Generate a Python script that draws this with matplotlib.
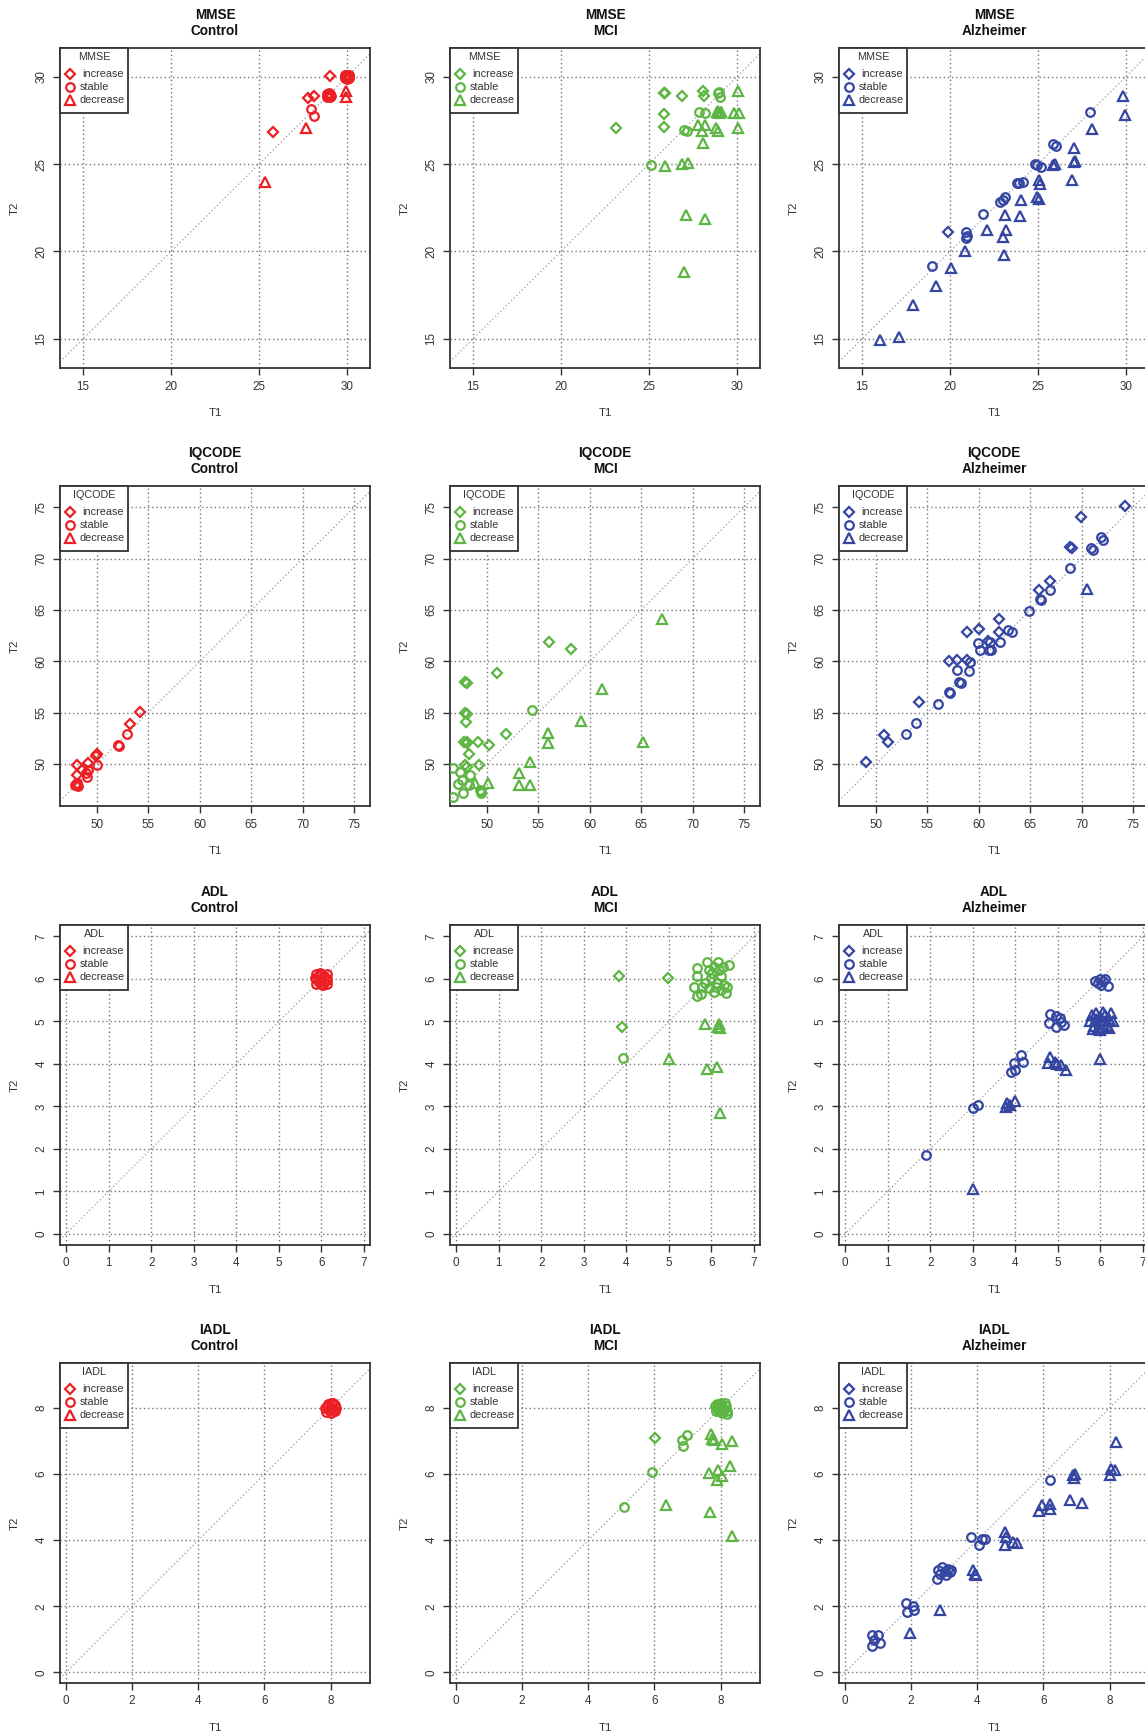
import matplotlib
matplotlib.use("Agg")
import matplotlib.pyplot as plt
from matplotlib.patches import Rectangle

plt.rcParams['font.family'] = ['Liberation Sans', 'DejaVu Sans']

# colours per diagnostic group
RED = '#ec1f24'
GREEN = '#5db543'
BLUE = '#3446a2'

groups = ['Control', 'MCI', 'Alzheimer']
scales = ['MMSE', 'IQCODE', 'ADL', 'IADL']
categories = ['increase', 'stable', 'decrease']

# axis limits and ticks per scale
mmse_lim = ((13.69, 31.31), (13.33, 31.64))
iqcode_lim = ((46.4, 76.56), (45.9, 77.08))
adl_lim = ((-0.14, 7.14), (-0.26, 7.27))
iadl_lim = ((-0.18, 9.19), (-0.32, 9.36))
mmse_ticks = [15, 20, 25, 30]
iqcode_ticks = [50, 55, 60, 65, 70, 75]
adl_ticks = [0, 1, 2, 3, 4, 5, 6, 7]
iadl_ticks = [0, 2, 4, 6, 8]

# ---- MMSE (T1, T2) ----
mmse_control_inc = [(29.05, 30.05), (27.8, 28.8), (28.15, 28.9), (25.82, 26.82)]
mmse_control_sta = [(29.9, 29.9), (30.0, 30.0), (30.1, 30.1), (29.95, 30.08), (30.08, 29.92),
                    (29.9, 30.1), (30.1, 29.9), (30.0, 29.88), (30.0, 30.12), (29.88, 30.0),
                    (30.12, 30.0), (30.05, 30.05), (29.95, 29.95),
                    (28.85, 28.85), (28.95, 28.95), (29.05, 29.0), (28.9, 29.02), (29.05, 28.82),
                    (28.88, 28.98), (29.0, 28.88), (28.98, 29.05), (29.08, 28.92),
                    (27.95, 28.13), (28.14, 27.77)]
mmse_control_dec = [(29.95, 29.2), (29.95, 28.86), (27.66, 27.07), (25.35, 24.0)]

mmse_mci_inc = [(23.11, 27.05), (25.85, 29.05), (25.9, 29.05), (26.86, 28.9), (25.85, 27.85),
                (25.85, 27.14), (28.06, 29.2), (28.1, 28.9)]
mmse_mci_sta = [(28.94, 29.05), (29.05, 28.86), (29.0, 29.1), (27.85, 27.96), (28.17, 27.9),
                (27.0, 26.92), (27.16, 26.9), (25.13, 24.92)]
mmse_mci_dec = [(28.85, 27.95), (28.92, 28.02), (29.0, 27.9), (29.08, 28.0), (29.12, 27.95),
                (29.85, 27.9), (30.13, 27.9), (30.08, 29.2), (30.08, 27.05), (27.8, 27.24),
                (28.2, 27.24), (28.0, 26.9), (28.8, 27.05), (28.9, 26.9), (28.06, 26.19),
                (25.9, 24.86), (26.9, 25.0), (27.2, 25.05), (27.1, 22.1), (28.2, 21.84),
                (27.0, 18.83)]

mmse_alz_inc = [(19.9, 21.1)]
mmse_alz_sta = [(27.98, 27.96), (25.88, 26.15), (26.03, 26.04), (24.83, 25.0), (24.96, 24.92),
                (25.15, 24.82), (23.78, 23.9), (23.93, 23.94), (24.16, 24.0), (22.82, 22.82),
                (23.0, 22.95), (23.1, 23.1), (21.87, 22.14), (20.93, 21.14), (20.97, 20.86),
                (20.9, 20.77), (19.0, 19.15)]
mmse_alz_dec = [(29.85, 28.9), (29.96, 27.81), (28.07, 26.99), (27.02, 25.9), (25.88, 24.92),
                (25.97, 25.0), (27.02, 25.1), (27.1, 25.18), (26.93, 24.1), (25.08, 24.1),
                (25.11, 23.85), (24.96, 23.11), (25.08, 23.0), (24.03, 22.96), (23.97, 22.05),
                (23.1, 22.1), (23.2, 21.2), (23.0, 20.82), (23.06, 19.8), (22.1, 21.24),
                (20.88, 20.0), (20.05, 19.05), (19.2, 18.0), (17.92, 16.96), (16.0, 14.96),
                (17.1, 15.11)]

# ---- IQCODE ----
iqcode_control_inc = [(54.2, 55.1), (53.17, 53.9), (50.0, 51.0), (49.9, 50.8), (49.1, 50.1),
                      (48.06, 49.9), (48.5, 49.4), (48.06, 48.9)]
iqcode_control_sta = [(52.9, 52.92), (52.0, 51.85), (52.17, 51.79), (50.0, 49.9), (49.1, 49.4),
                      (48.9, 49.1), (49.0, 48.77), (48.0, 47.9), (48.1, 48.0), (47.95, 48.05),
                      (48.12, 47.85), (48.05, 48.1), (47.9, 47.95)]
iqcode_control_dec = []

iqcode_mci_inc = [(56.0, 61.88), (58.15, 61.17), (50.97, 58.86), (47.9, 58.0), (48.05, 57.86),
                  (47.9, 54.98), (48.1, 54.82), (48.0, 54.06), (51.88, 52.89), (47.73, 52.15),
                  (48.1, 52.15), (48.1, 52.0), (49.1, 52.1), (50.16, 51.85), (48.2, 50.94),
                  (49.19, 49.9), (47.9, 49.9), (48.1, 49.74)]
iqcode_mci_sta = [(54.38, 55.26), (46.7, 49.58), (47.4, 49.25), (48.38, 48.93), (47.56, 48.44),
                  (47.14, 48.0), (48.2, 47.95), (47.63, 47.2), (46.69, 46.75), (49.35, 47.47),
                  (49.45, 47.2), (49.4, 47.35)]
iqcode_mci_dec = [(66.98, 64.12), (61.14, 57.27), (59.16, 54.19), (55.9, 52.99), (55.94, 52.0),
                  (65.16, 52.15), (48.86, 48.1), (50.06, 48.12), (53.12, 49.1), (53.12, 47.9),
                  (54.16, 47.98), (54.22, 50.16)]

iqcode_alz_inc = [(74.25, 75.13), (69.94, 74.03), (68.9, 71.1), (69.06, 71.0), (66.95, 67.86),
                  (65.9, 66.95), (62.0, 64.09), (58.9, 62.89), (60.03, 63.12), (62.0, 62.89),
                  (60.94, 62.0), (57.14, 60.03), (57.86, 60.16), (58.9, 60.16), (54.16, 56.07),
                  (50.81, 52.8), (51.14, 52.1), (49.03, 50.16)]
iqcode_alz_sta = [(70.94, 71.0), (71.1, 70.84), (71.88, 72.08), (72.05, 71.82), (68.83, 69.06),
                  (66.88, 66.95), (65.97, 66.04), (66.07, 65.97), (64.9, 64.9), (62.8, 63.05),
                  (63.2, 62.89), (62.08, 61.92), (59.97, 61.82), (60.13, 61.1), (61.1, 61.85),
                  (61.04, 61.1), (61.17, 61.1), (59.1, 59.94), (57.92, 59.16), (59.06, 59.06),
                  (58.12, 58.0), (58.28, 57.9), (57.14, 57.05), (57.2, 56.95), (56.07, 55.84),
                  (53.9, 53.95), (52.89, 52.9)]
iqcode_alz_dec = [(70.52, 67.0)]

# ---- ADL ----
adl_control_inc = []
adl_control_sta = [(5.88, 5.88), (6.0, 5.88), (6.12, 5.88), (5.88, 6.0), (6.0, 6.0), (6.12, 6.0),
                   (5.88, 6.12), (6.0, 6.12), (6.12, 6.12), (5.94, 5.94), (6.06, 5.94), (5.94, 6.06),
                   (6.06, 6.06), (5.86, 6.03), (6.14, 5.97), (6.03, 5.85), (5.97, 6.15)]
adl_control_dec = []

adl_mci_inc = [(3.84, 6.06), (4.98, 6.02), (3.89, 4.86)]
adl_mci_sta = [(3.92, 4.13), (5.65, 6.25), (5.65, 6.07), (5.65, 5.6), (5.59, 5.82), (5.78, 5.82),
               (5.89, 6.41), (5.94, 6.22), (5.98, 6.02), (6.06, 6.29), (6.15, 6.39), (6.18, 6.22),
               (6.22, 6.07), (6.1, 5.82), (6.3, 5.86), (6.41, 6.32), (6.37, 5.82), (6.33, 5.67),
               (5.94, 5.78), (5.76, 5.65), (6.06, 5.7), (6.14, 5.9), (6.02, 6.14), (6.22, 5.74),
               (5.86, 5.9), (6.26, 6.29)]
adl_mci_dec = [(5.0, 4.12), (5.86, 4.94), (6.15, 4.88), (6.18, 4.94), (6.2, 4.84), (5.89, 3.89),
               (6.14, 3.94), (6.2, 2.84)]

adl_alz_inc = []
adl_alz_sta = [(5.87, 5.96), (5.94, 5.91), (6.02, 5.86), (6.1, 6.01), (6.18, 5.84), (5.98, 5.99),
               (6.06, 5.95), (4.81, 5.18), (4.79, 4.96), (4.95, 5.13), (4.95, 4.86), (5.04, 5.07),
               (5.14, 4.91), (5.08, 4.99), (3.96, 4.02), (3.91, 3.82), (3.99, 3.86), (4.14, 4.21),
               (4.18, 4.04), (3.01, 2.96), (3.12, 3.04), (1.91, 1.86)]
adl_alz_dec = [(5.8, 5.15), (5.85, 4.9), (5.9, 5.05), (5.95, 4.85), (6.0, 5.1), (6.05, 4.95),
               (6.1, 5.15), (6.15, 4.9), (6.2, 5.05), (6.25, 5.2), (5.75, 5.0), (6.0, 4.8),
               (6.1, 5.0), (5.9, 5.2), (6.2, 4.85), (6.3, 5.0), (5.82, 4.82), (6.05, 5.22),
               (4.81, 4.17), (4.77, 4.02), (4.93, 4.04), (4.99, 4.0), (5.07, 3.98), (5.2, 3.86),
               (6.0, 4.11), (3.79, 2.98), (3.87, 3.04), (3.99, 3.14), (3.81, 3.07), (3.01, 1.05)]

# ---- IADL ----
iadl_control_inc = []
iadl_control_sta = [(7.86, 7.88), (8.0, 7.86), (8.14, 7.9), (7.88, 8.06), (8.02, 8.0), (8.12, 8.1),
                    (7.94, 7.94), (8.06, 7.94), (7.92, 8.12), (8.08, 8.14), (7.84, 8.0), (8.16, 8.0),
                    (8.0, 8.14)]
iadl_control_dec = []

iadl_mci_inc = [(6.01, 7.09)]
iadl_mci_sta = [(6.82, 7.02), (6.97, 7.17), (6.87, 6.84), (5.93, 6.06), (5.07, 5.0),
                (7.85, 7.9), (7.95, 8.1), (8.05, 7.85), (8.15, 8.05), (7.9, 8.0), (8.0, 8.15),
                (8.1, 7.95), (8.2, 7.82), (7.82, 8.05), (8.05, 8.05), (7.95, 7.92), (8.12, 8.15),
                (8.0, 7.98), (8.18, 7.9), (7.88, 8.12)]
iadl_mci_dec = [(6.35, 5.05), (7.72, 7.2), (7.75, 7.07), (7.8, 7.02), (8.05, 6.92), (8.35, 7.0),
                (7.65, 6.04), (7.92, 6.13), (8.05, 5.94), (7.9, 5.81), (8.27, 6.23), (7.67, 4.85),
                (8.35, 4.12)]

iadl_alz_inc = []
iadl_alz_sta = [(6.19, 5.81), (3.8, 4.1), (4.05, 3.86), (4.15, 4.04), (4.22, 4.04), (2.81, 3.11),
                (2.86, 2.98), (2.94, 3.19), (3.01, 3.06), (3.06, 2.94), (3.16, 3.04), (3.21, 3.09),
                (2.78, 2.83), (3.11, 3.14), (1.85, 2.11), (1.88, 1.82), (2.05, 2.02), (2.1, 1.89),
                (0.83, 1.14), (1.0, 1.14), (0.83, 0.79), (1.07, 0.89), (0.87, 0.99)]
iadl_alz_dec = [(8.2, 6.97), (8.0, 5.98), (8.05, 6.16), (8.15, 6.13), (6.89, 5.96), (6.91, 5.89),
                (6.94, 6.01), (6.79, 5.22), (7.17, 5.12), (5.86, 4.88), (5.96, 5.05), (6.19, 5.1),
                (6.19, 4.95), (4.83, 4.25), (4.86, 4.1), (4.83, 3.84), (5.08, 3.95), (5.2, 3.92),
                (3.87, 3.11), (3.92, 2.97), (3.97, 2.94), (2.88, 1.9), (1.98, 1.19)]

# rows = scales, columns = groups
limits = [mmse_lim, iqcode_lim, adl_lim, iadl_lim]
ticks = [mmse_ticks, iqcode_ticks, adl_ticks, iadl_ticks]
colors = [RED, GREEN, BLUE]
points = [
    [(mmse_control_inc, mmse_control_sta, mmse_control_dec),
     (mmse_mci_inc, mmse_mci_sta, mmse_mci_dec),
     (mmse_alz_inc, mmse_alz_sta, mmse_alz_dec)],
    [(iqcode_control_inc, iqcode_control_sta, iqcode_control_dec),
     (iqcode_mci_inc, iqcode_mci_sta, iqcode_mci_dec),
     (iqcode_alz_inc, iqcode_alz_sta, iqcode_alz_dec)],
    [(adl_control_inc, adl_control_sta, adl_control_dec),
     (adl_mci_inc, adl_mci_sta, adl_mci_dec),
     (adl_alz_inc, adl_alz_sta, adl_alz_dec)],
    [(iadl_control_inc, iadl_control_sta, iadl_control_dec),
     (iadl_mci_inc, iadl_mci_sta, iadl_mci_dec),
     (iadl_alz_inc, iadl_alz_sta, iadl_alz_dec)],
]

# marker styles: R pch 5 / 1 / 2
markers = [('D', 4.6), ('o', 6.2), ('^', 6.8)]
MEW = 1.6

W, H = 1145, 1736
BOX_W, BOX_H = 310, 320
col_left = [60, 450, 839]
row_top = [48, 486, 925, 1363]
ink = '#333333'

fig = plt.figure(figsize=(W / 100, H / 100), dpi=100)


def r_legend(ax, title, color):
    # R-style legend box glued to the top-left corner
    def ax_xy(px, py):
        return px / BOX_W, 1 - py / BOX_H
    x0, y0 = ax_xy(0, 65)
    ax.add_patch(Rectangle((x0, y0), 68 / BOX_W, 65 / BOX_H, transform=ax.transAxes,
                           facecolor='white', edgecolor=ink, linewidth=1.3, zorder=5,
                           clip_on=False))
    tx, ty = ax_xy(34, 9)
    ax.text(tx, ty, title, transform=ax.transAxes, ha='center', va='center',
            fontsize=7.8, color=ink, zorder=6)
    for i, (label, (m, ms)) in enumerate(zip(categories, markers)):
        mx, my = ax_xy(10, 26 + 13 * i)
        ax.plot([mx], [my], marker=m, ms=ms, mfc='none', mec=color, mew=MEW, ls='none',
                transform=ax.transAxes, zorder=6, clip_on=False)
        lx, _ = ax_xy(22.5 if label == 'increase' else 19.3, 0)
        ax.text(lx, my, label, transform=ax.transAxes, ha='left', va='center',
                fontsize=7.8, color=ink, zorder=6)


for r, scale in enumerate(scales):
    (xlim, ylim) = limits[r]
    for c, group in enumerate(groups):
        left = col_left[c] / W
        bottom = 1 - (row_top[r] + BOX_H) / H
        ax = fig.add_axes([left, bottom, BOX_W / W, BOX_H / H])
        ax.set_xlim(xlim)
        ax.set_ylim(ylim)
        ax.set_xticks(ticks[r])
        ax.set_yticks(ticks[r])
        ax.grid(True, color='#777777', linestyle=(0, (1, 2)), linewidth=1.0)
        ax.set_axisbelow(True)
        ax.axline((0, 0), (1, 1), color='#9a9a9a', linestyle=(0, (1, 2)), linewidth=0.9,
                  zorder=1)

        for pts, (m, ms) in zip(points[r][c], markers):
            if not pts:
                continue
            xs = [p[0] for p in pts]
            ys = [p[1] for p in pts]
            ax.plot(xs, ys, marker=m, ms=ms, mfc='none', mec=colors[c], mew=MEW,
                    ls='none', zorder=3)

        for sp in ax.spines.values():
            sp.set_color(ink)
            sp.set_linewidth(1.3)
        ax.tick_params(length=5, width=1.0, color=ink, labelcolor=ink, labelsize=8.4, pad=4)
        ax.tick_params(axis='y', labelrotation=90)
        for lab in ax.get_yticklabels():
            lab.set_va('center')

        ax.set_xlabel('T1', fontsize=8.2, color=ink)
        ax.xaxis.label.set_va('center')
        ax.xaxis.set_label_coords(0.5, -45 / BOX_H)
        ax.set_ylabel('T2', fontsize=8.2, color=ink)
        ax.yaxis.label.set_va('center')
        ax.yaxis.set_label_coords(-45 / BOX_W, 0.5)

        ax.text(0.5, 1 + 33 / BOX_H, scale, transform=ax.transAxes, ha='center',
                va='center', fontsize=9.8, fontweight='bold', color='#111111')
        ax.text(0.5, 1 + 17 / BOX_H, group, transform=ax.transAxes, ha='center',
                va='center', fontsize=9.8, fontweight='bold', color='#111111')

        r_legend(ax, scale, colors[c])

fig.savefig('out.png', dpi=100)
